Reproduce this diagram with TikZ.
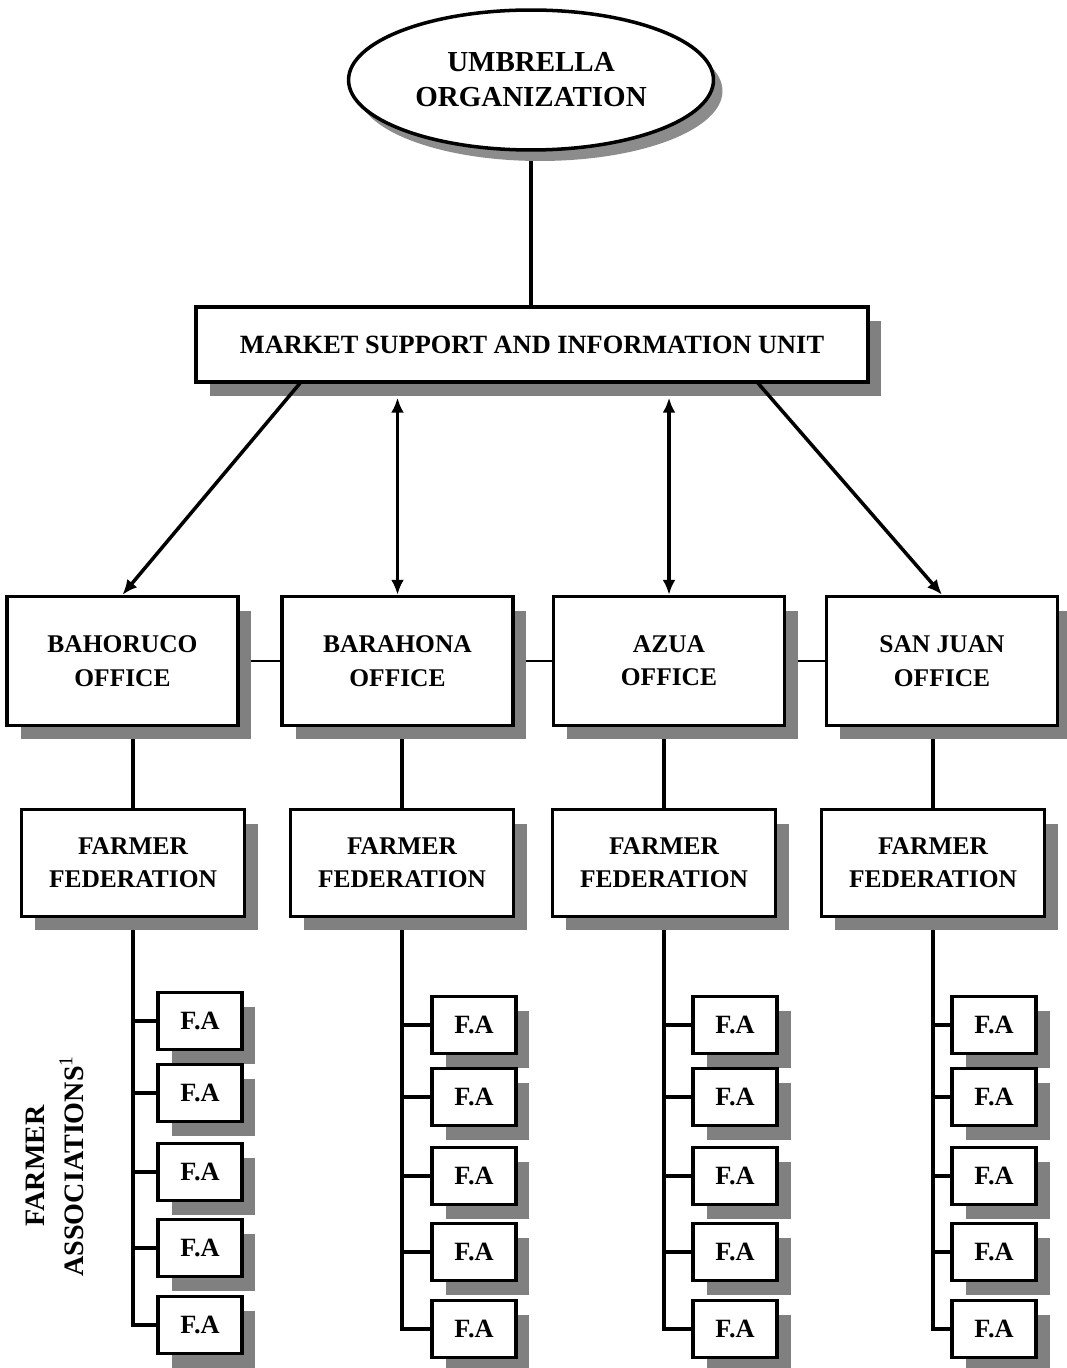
\documentclass[tikz,border=0pt]{standalone}
\usepackage{fontspec}
\setmainfont{Liberation Serif}
\usetikzlibrary{arrows.meta,shapes.geometric,shadows,backgrounds}
\tikzset{
  boxshadow/.style={drop shadow={shadow xshift=0.27cm, shadow yshift=-0.28cm, fill=black!50, opacity=1}},
  orgbox/.style={draw=black, line width=2pt, fill=white, align=center, inner sep=0pt,
    font=\bfseries\fontsize{14.5}{19}\selectfont, boxshadow},
  fabox/.style={orgbox, minimum width=1.68cm, minimum height=1.14cm, font=\bfseries\fontsize{15}{17}\selectfont},
  umbrella/.style={ellipse, draw=black, line width=2pt, fill=white, align=center, inner sep=0pt,
    minimum width=7.3cm, minimum height=2.8cm, font=\bfseries\fontsize{16.5}{20}\selectfont,
    drop shadow={shadow xshift=0.18cm, shadow yshift=-0.22cm, fill=black!45, opacity=1}},
  link/.style={line width=2pt},
  thinlink/.style={line width=1pt}
}
\begin{document}
\begin{tikzpicture}[x=0.02cm, y=-0.02cm, >={Latex[length=3mm,width=2.6mm]}]
\useasboundingbox (0,0) rectangle (1066,1368);
\node[umbrella] (umb) at (531,80) {UMBRELLA\\ORGANIZATION};
\node[orgbox, minimum width=13.44cm, minimum height=1.5cm, font=\bfseries\fontsize{15}{19}\selectfont] (msiu) at (532,344.5) {MARKET SUPPORT AND INFORMATION UNIT};
\foreach \n/\x/\lab in {1/122.5/BAHORUCO, 2/397.5/BARAHONA, 3/669/AZUA, 4/942/SAN JUAN} {
  \node[orgbox, minimum width=4.62cm, minimum height=2.58cm] (off\n) at (\x,661) {\lab\\OFFICE};
}
\foreach \n/\x in {1/133, 2/402, 3/664, 4/933} {
  \node[orgbox, minimum width=4.46cm, minimum height=2.14cm] (ff\n) at (\x,863) {FARMER\\FEDERATION};
}
\foreach \n/\x/\dy in {1/200/-4, 2/474/0, 3/735/0, 4/994/0} {
  \foreach \r/\y in {1/1025, 2/1097, 3/1176, 4/1252, 5/1329} {
    \node[fabox] (fa\n\r) at (\x,{\y+\dy}) {F.A};
  }
}
\node[rotate=90, align=center, font=\bfseries\fontsize{16}{22}\selectfont] (falab) at (55,1166) {FARMER\\ASSOCIATIONS\textsuperscript{\mdseries 1}};
\coordinate (m1) at (301,382);
\coordinate (m4) at (757,382);
\coordinate (msb) at ([yshift=-0.28cm]msiu.south);
\begin{scope}[on background layer]
\draw[link] (umb.south) -- (umb.south |- msiu.north);
\draw[thinlink] (off1.east) -- (off2.west);
\draw[thinlink] (off2.east) -- (off3.west);
\draw[thinlink] (off3.east) -- (off4.west);
\foreach \n in {1,...,4} {
  \draw[link] (ff\n.north) -- (ff\n.north |- off\n.south);
  \draw[link] (ff\n.south) |- (fa\n5.west);
  \foreach \r in {1,...,4} {
    \draw[link] (ff\n.south |- fa\n\r.west) -- (fa\n\r.west);
  }
}
\end{scope}
\draw[link, ->] (m1) -- (off1.north);
\draw[link, <->] (off2.north) -- (off2.north |- msb);
\draw[link, <->] (off3.north) -- (off3.north |- msb);
\draw[link, ->] (m4) -- (off4.north);
\end{tikzpicture}
\end{document}
